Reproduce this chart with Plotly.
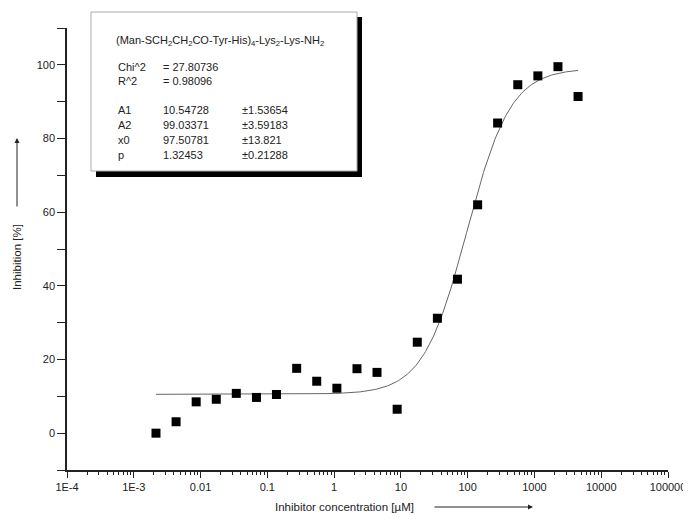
import plotly.graph_objects as go
import numpy as np

# ---------------- data ----------------
concentration_uM = [0.00215, 0.0043, 0.0086, 0.0172, 0.0343, 0.0687, 0.137, 0.275,
                    0.549, 1.10, 2.20, 4.39, 8.79, 17.6, 35.2, 70.3, 141, 281,
                    563, 1125, 2250, 4500]
inhibition_pct = [0.0, 3.1, 8.5, 9.2, 10.8, 9.7, 10.5, 17.6,
                  14.1, 12.2, 17.5, 16.5, 6.5, 24.7, 31.2, 41.8, 62.0, 84.2,
                  94.6, 97.0, 99.5, 91.4]

# fit parameters printed in the chart's box (logistic fit)
param_names = ["A1", "A2", "x0", "p"]
param_values = ["10.54728", "99.03371", "97.50781", "1.32453"]
param_errors = ["±1.53654", "±3.59183", "±13.821", "±0.21288"]
A1, A2, X0, P = 10.54728, 99.03371, 97.50781, 1.32453
chi2_text = "27.80736"
r2_text = "0.98096"
compound = "(Man-SCH<sub>2</sub>CH<sub>2</sub>CO-Tyr-His)<sub>4</sub>-Lys<sub>2</sub>-Lys-NH<sub>2</sub>"

x_tick_vals = [1e-4, 1e-3, 1e-2, 1e-1, 1, 10, 100, 1000, 10000, 100000]
x_tick_text = ["1E-4", "1E-3", "0.01", "0.1", "1", "10", "100", "1000", "10000", "100000"]
y_tick_vals = [-10, 0, 10, 20, 30, 40, 50, 60, 70, 80, 90, 100, 110]
y_tick_text = ["", "0", "", "20", "", "40", "", "60", "", "80", "", "100", ""]

# fitted curve from the displayed parameters
xc = np.logspace(np.log10(concentration_uM[0]), np.log10(concentration_uM[-1]), 300)
yc = A2 + (A1 - A2) / (1 + (xc / X0) ** P)

# ---------------- layout helpers (screen pixel -> paper) ----------------
W, H = 691, 521
OFF = 8  # page body margin
L, R, T, B = 67 - OFF, 691 - 668 + OFF, 28 - OFF, 521 - 470 + OFF
PX0, PX1, PY0, PY1 = 67, 668, 28, 470


def pxx(x):
    return (x - PX0) / (PX1 - PX0)


def pxy(y):
    return (PY1 - y) / (PY1 - PY0)


FONT = "Liberation Sans, Arial, sans-serif"
TXT = "#222222"

fig = go.Figure()
fig.add_trace(go.Scatter(x=xc, y=yc, mode="lines",
                         line=dict(color="#666666", width=1), hoverinfo="skip"))
fig.add_trace(go.Scatter(x=concentration_uM, y=inhibition_pct, mode="markers",
                         marker=dict(symbol="square", size=9, color="black")))

shapes = [
    # shadow
    dict(type="rect", xref="paper", yref="paper",
         x0=pxx(96), x1=pxx(362), y0=pxy(177), y1=pxy(17),
         fillcolor="black", line=dict(width=0), layer="above"),
    # box
    dict(type="rect", xref="paper", yref="paper",
         x0=pxx(91), x1=pxx(357), y0=pxy(171), y1=pxy(12),
         fillcolor="white", line=dict(color="#aaaaaa", width=1), layer="above"),
]

ann = []


def txt(x, y, s, size=11, **kw):
    d = dict(xref="paper", yref="paper", x=pxx(x), y=pxy(y), text=s, showarrow=False,
             xanchor="left", yanchor="middle", font=dict(family=FONT, size=size, color=TXT))
    d.update(kw)
    ann.append(d)


txt(114, 41, compound)
txt(116, 67, "Chi^2")
txt(161, 67, "= " + chi2_text)
txt(116, 81, "R^2")
txt(161, 81, "= " + r2_text)
for i, (n, v, e) in enumerate(zip(param_names, param_values, param_errors)):
    yy = 110 + 15 * i
    txt(116, yy, n)
    txt(161, yy, v)
    txt(240, yy, e)

# axis titles
ann.append(dict(xref="paper", yref="paper", x=pxx(344), y=pxy(507),
                text="Inhibitor concentration [µM]", showarrow=False,
                xanchor="center", yanchor="middle",
                font=dict(family=FONT, size=11.5, color=TXT)))
ann.append(dict(xref="paper", yref="paper", x=pxx(17), y=pxy(257),
                text="Inhibition [%]", showarrow=False, textangle=-90,
                xanchor="center", yanchor="middle",
                font=dict(family=FONT, size=11.5, color=TXT)))
# arrows
ann.append(dict(xref="paper", yref="paper", x=pxx(533), y=pxy(507), ax=-100, ay=0,
                text="", showarrow=True, arrowhead=2, arrowsize=1, arrowwidth=1,
                arrowcolor=TXT))
ann.append(dict(xref="paper", yref="paper", x=pxx(17), y=pxy(138), ax=0, ay=70,
                text="", showarrow=True, arrowhead=2, arrowsize=1, arrowwidth=1,
                arrowcolor=TXT))

fig.update_layout(
    width=W, height=H,
    margin=dict(l=L, r=R, t=T, b=B, pad=0),
    paper_bgcolor="white", plot_bgcolor="white",
    showlegend=False,
    shapes=shapes, annotations=ann,
    font=dict(family=FONT, size=11, color=TXT),
)
fig.update_xaxes(type="log", range=[-4, 5], showgrid=False, zeroline=False,
                 showline=True, linecolor="#222222", linewidth=1.5,
                 tickmode="array", tickvals=x_tick_vals, ticktext=x_tick_text,
                 ticks="outside", ticklen=6, tickwidth=1, tickcolor="#222222",
                 tickfont=dict(family=FONT, size=11, color=TXT),
                 minor=dict(ticks="outside", ticklen=3, tickwidth=1, tickcolor="#222222",
                            dtick="D1", showgrid=False))
fig.update_yaxes(range=[-10, 110], showgrid=False, zeroline=False,
                 showline=True, linecolor="#222222", linewidth=1.5,
                 tickmode="array", tickvals=y_tick_vals, ticktext=y_tick_text,
                 ticks="outside", ticklen=8, tickwidth=1, tickcolor="#222222",
                 tickfont=dict(family=FONT, size=11, color=TXT))

fig.write_html("out.html")
